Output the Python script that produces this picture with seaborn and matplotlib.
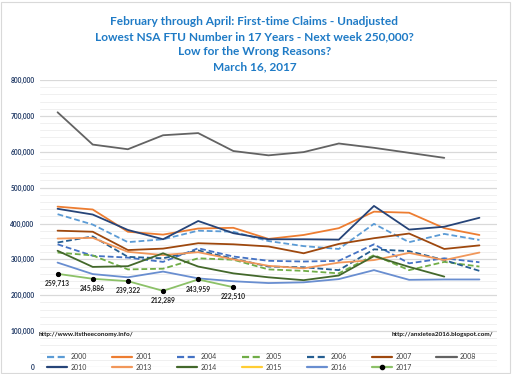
import numpy as np
import pandas as pd
import matplotlib
matplotlib.use("Agg")
import matplotlib.pyplot as plt
from matplotlib.lines import Line2D
from matplotlib.patches import Rectangle
from matplotlib.ticker import MultipleLocator, FuncFormatter
import seaborn as sns

# ==========================================
# DATA (weekly NSA first-time claims, Feb - Apr)
# ==========================================
weeks = list(range(13))

y2000 = [426, 397, 348, 356, 380, 377, 351, 337, 329, 399, 348, 371, 354]
y2001 = [447, 439, 377, 369, 386, 388, 357, 368, 387, 433, 430, 387, 368]
y2004 = [342, 310, 305, 293, 331, 308, 296, 294, 296, 342, 289, 303, 292]
y2005 = [319, 311, 272, 274, 303, 299, 272, 268, 261, 312, 270, 293, 280]
y2006 = [347, 364, 307, 303, 325, 302, 280, 278, 270, 328, 323, 298, 268]
y2007 = [380, 377, 326, 330, 345, 342, 336, 317, 343, 359, 372, 329, 339]
y2008 = [710, 620, 607, 646, 652, 602, 590, 599, 623, 611, 597, 583]
y2010 = [441, 425, 382, 356, 407, 373, 356, 356, 355, 449, 383, 391, 416]
y2013 = [358, 360, 321, 312, 320, 300, 282, 275, 291, 298, 318, 298, 319]
y2014 = [324, 279, 281, 317, 280, 261, 250, 242, 255, 309, 279, 252]
y2015 = []
y2016 = [291, 259, 250, 266, 247, 239, 234, 236, 245, 270, 243, 244, 244]
y2017 = [259713, 245886, 239322, 212289, 243959, 222510]

title_lines = [
    "February through April: First-time Claims - Unadjusted",
    "Lowest NSA FTU Number in 17 Years - Next week 250,000?",
    "Low for the Wrong Reasons?",
    "March 16, 2017",
]

# year -> (values in thousands, colour, dashed?)
series = {
    "2000": (y2000, "#5B9BD5", True),
    "2001": (y2001, "#ED7D31", False),
    "2004": (y2004, "#4472C4", True),
    "2005": (y2005, "#70AD47", True),
    "2006": (y2006, "#255E91", True),
    "2007": (y2007, "#9E480E", False),
    "2008": (y2008, "#636363", False),
    "2010": (y2010, "#264478", False),
    "2013": (y2013, "#F1975A", False),
    "2014": (y2014, "#43682B", False),
    "2015": (y2015, "#FFCD33", False),
    "2016": (y2016, "#698ED0", False),
}

sns.set_style("white")
plt.rcParams["font.family"] = ["Lato", "DejaVu Sans"]

fig = plt.figure(figsize=(5.15, 3.74), dpi=100)
ax = fig.add_axes([40 / 515, 1 - 367 / 374, 457 / 515, 287 / 374])

dash = (0, (3.2, 1.6))
handles = {}
for year, (vals, col, dashed) in series.items():
    ls = dash if dashed else "-"
    if vals:
        df = pd.DataFrame({"week": weeks[:len(vals)], "claims": np.array(vals) * 1000})
        sns.lineplot(data=df, x="week", y="claims", color=col, linestyle=ls,
                     linewidth=1.3, ax=ax, legend=False)
    handles[year] = Line2D([], [], color=col, linestyle=ls, linewidth=1.6)

# 2017 with markers and value labels
df17 = pd.DataFrame({"week": weeks[:len(y2017)], "claims": y2017})
sns.lineplot(data=df17, x="week", y="claims", color="#8CC168", linewidth=1.3,
             marker="o", markersize=3, markerfacecolor="black",
             markeredgecolor="black", ax=ax, legend=False)
handles["2017"] = Line2D([], [], color="#8CC168", linewidth=1.6, marker="o",
                         markersize=3, markerfacecolor="black", markeredgecolor="black")
for wk, v in zip(df17["week"], df17["claims"]):
    ax.annotate(f"{v:,}", (wk, v), xytext=(0, -7), textcoords="offset points",
                ha="center", va="center", fontsize=4.9, fontweight="bold", color="#222222")

ax.set_xlim(-0.5, 12.5)
ax.set_ylim(0, 800000)
ax.yaxis.set_major_locator(MultipleLocator(100000))
ax.yaxis.set_minor_locator(MultipleLocator(20000))
ax.yaxis.set_major_formatter(FuncFormatter(lambda v, p: f"{int(v):,}"))
ax.grid(which="major", axis="y", color="#D9D9D9", linewidth=0.9)
ax.grid(which="minor", axis="y", color="#F0F0F0", linewidth=0.7)
ax.set_axisbelow(True)
ax.set_xticks([])
ax.set_xlabel("")
ax.set_ylabel("")
ax.tick_params(axis="y", which="both", length=0, pad=4, labelsize=4.8,
               labelcolor="#1F3864")
for lab in ax.get_yticklabels():
    lab.set_fontweight("bold")
for s in ax.spines.values():
    s.set_visible(False)

# source urls
ax.text(-0.55, 90000, "http://www.itstheeconomy.info/", fontsize=4.6,
        fontweight="bold", ha="left", va="center", color="#111111")
ax.text(12.4, 90000, "http://anxietea2016.blogspot.com/", fontsize=4.6,
        fontweight="bold", ha="right", va="center", color="#111111")

# title
fig.text(0.494, 1 - 44 / 374, "\n".join(title_lines), ha="center", va="center",
         fontsize=8.6, fontweight="bold", color="#1F7BC6", linespacing=1.45)

# legend: 7 columns, column-major fill
order = ["2000", "2010", "2001", "2013", "2004", "2014", "2005", "2015",
         "2006", "2016", "2007", "2017", "2008"]
fig.legend([handles[k] for k in order], order, loc="center", ncol=7,
           bbox_to_anchor=(0.508, 1 - 362 / 374), frameon=False, fontsize=5,
           handlelength=2.9, handletextpad=0.5, columnspacing=3.6,
           labelspacing=0.55, labelcolor="#404040")

# chart border
fig.patches.append(Rectangle((1 / 515, 1 / 374), 509 / 515, 371 / 374,
                             transform=fig.transFigure, fill=False,
                             edgecolor="#D9D9D9", linewidth=0.8))

fig.savefig("out.png", dpi=100)
